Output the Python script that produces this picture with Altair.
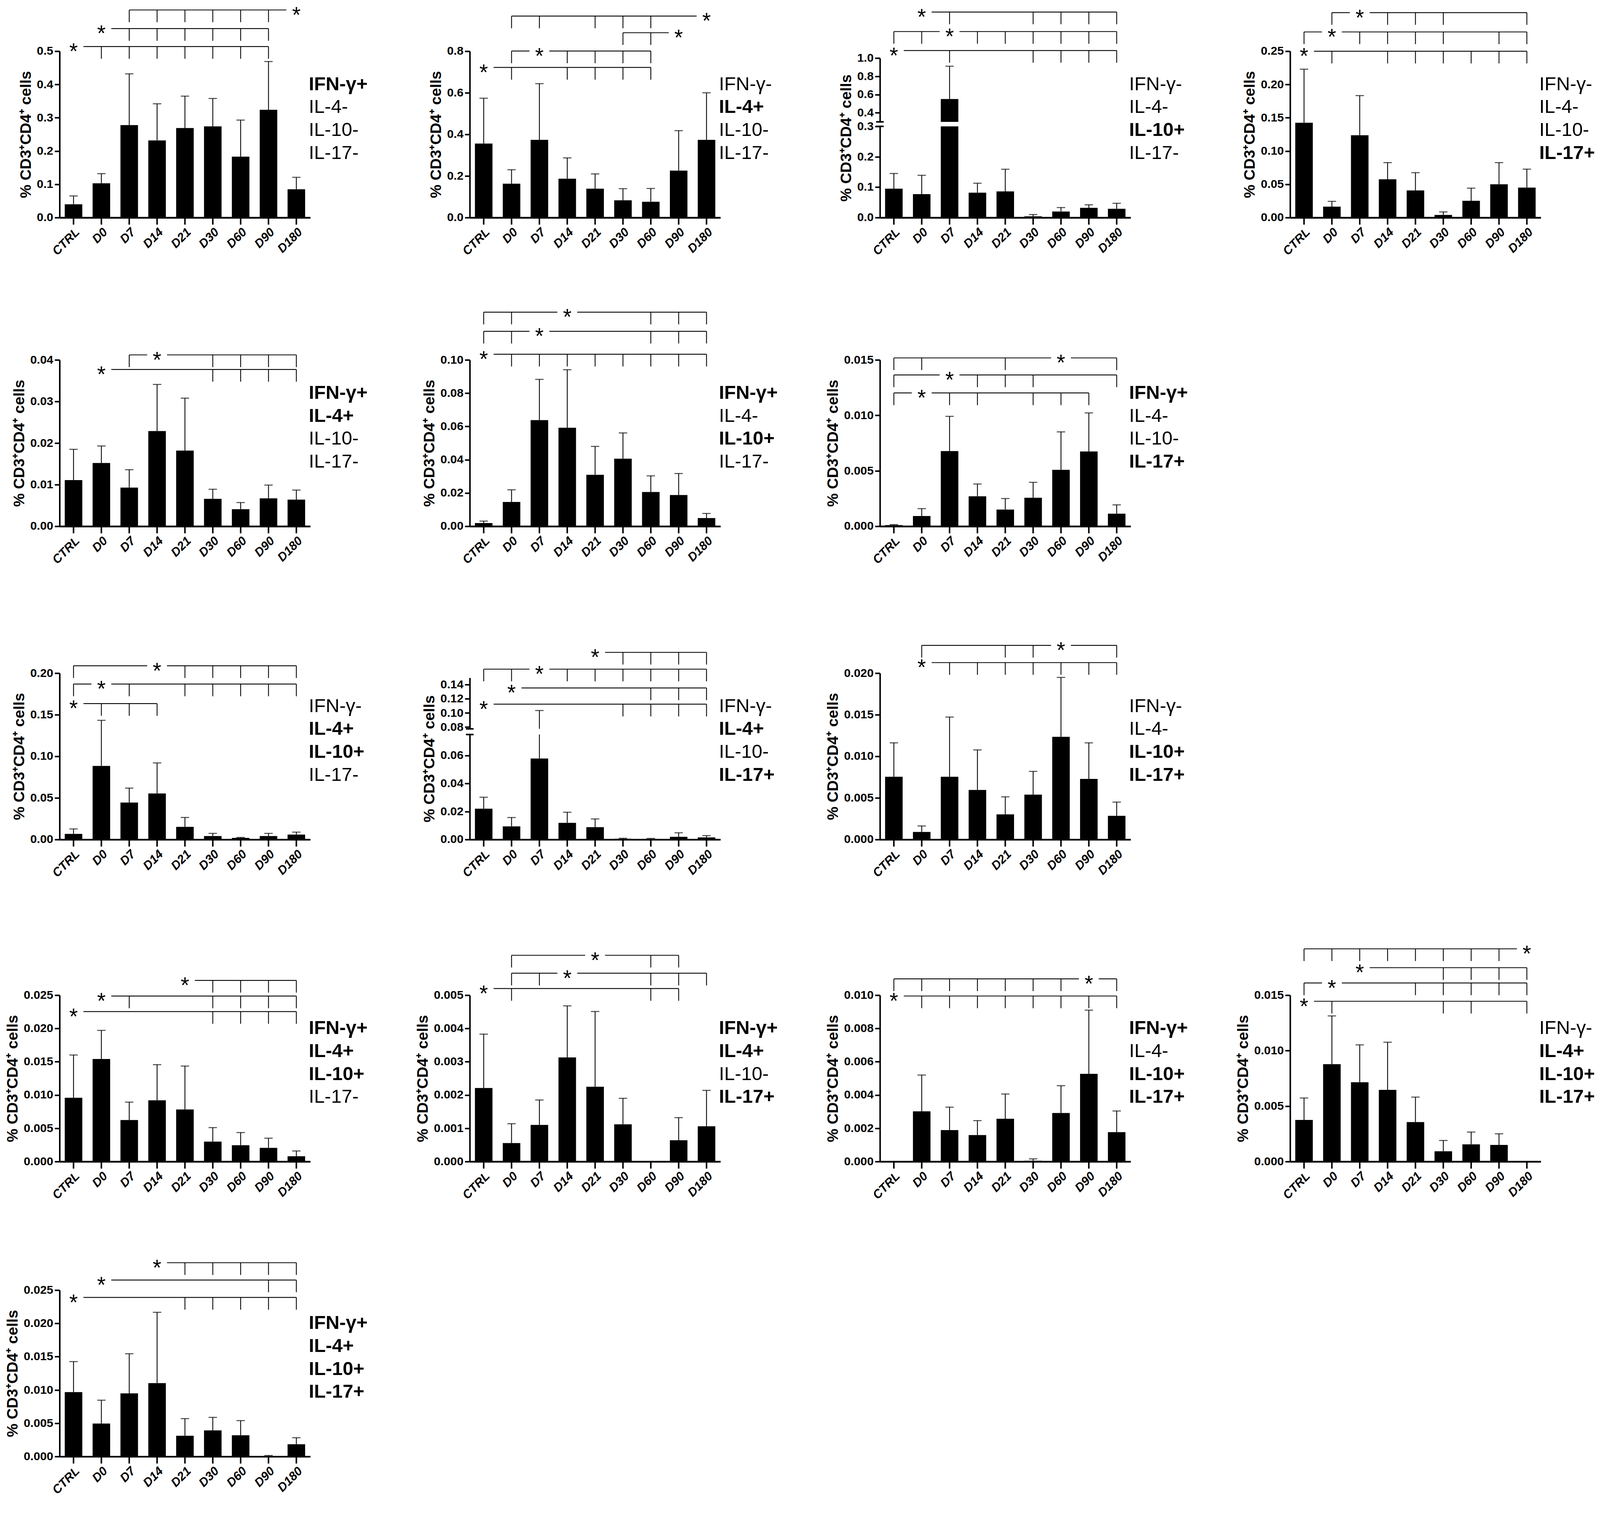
import altair as alt
import pandas as pd

FONT = "Liberation Sans"
CATS = ["CTRL", "D0", "D7", "D14", "D21", "D30", "D60", "D90", "D180"]
YTITLE = "% CD3⁺CD4⁺ cells"

# ---------------- panel values (mean bar, upper end of error bar) ----------------
P1_LABELS = ["IFN-γ+", "IL-4-", "IL-10-", "IL-17-"]
P1_MEAN = [0.040, 0.103, 0.278, 0.232, 0.269, 0.274, 0.183, 0.324, 0.085]
P1_ERR = [0.065, 0.132, 0.432, 0.342, 0.365, 0.358, 0.293, 0.469, 0.121]
P1_TICKS = [0, 0.1, 0.2, 0.3, 0.4, 0.5]
P1_SIG = [(0.514, "CTRL", ["D0", "D7", "D14", "D21", "D30", "D60", "D90"]),
          (0.568, "D0", ["D7", "D14", "D21", "D30", "D60", "D90"]),
          (0.624, "D180", ["D7", "D14", "D21", "D30", "D60", "D90"])]

P2_LABELS = ["IFN-γ-", "IL-4+", "IL-10-", "IL-17-"]
P2_MEAN = [0.356, 0.163, 0.374, 0.187, 0.139, 0.083, 0.076, 0.226, 0.374]
P2_ERR = [0.574, 0.230, 0.644, 0.287, 0.210, 0.139, 0.140, 0.418, 0.600]
P2_TICKS = [0, 0.2, 0.4, 0.6, 0.8]
P2_SIG = [(0.722, "CTRL", ["D0", "D14", "D21", "D30", "D60"]),
          (0.801, "D7", ["D0", "D14", "D21", "D30", "D60"]),
          (0.889, "D90", ["D30", "D60"]),
          (0.969, "D180", ["D0", "D7", "D21", "D30", "D60"])]

P3_LABELS = ["IFN-γ-", "IL-4-", "IL-10+", "IL-17-"]
P3_MEAN = [0.095, 0.077, 0.551, 0.082, 0.086, 0.004, 0.020, 0.032, 0.029]
P3_ERR = [0.145, 0.139, 0.911, 0.113, 0.159, 0.010, 0.033, 0.042, 0.047]
P3_TICKS = [0, 0.1, 0.2, 0.3, 0.4, 0.6, 0.8, 1.0]
P3_BREAK = [0.3, 0.3001]
P3_SIG = [(1.083, "CTRL", ["D7", "D30", "D60", "D90", "D180"]),
          (1.291, "D7", ["CTRL", "D0", "D14", "D21", "D30", "D60", "D90", "D180"]),
          (1.505, "D0", ["D7", "D30", "D60", "D90", "D180"])]

P4_LABELS = ["IFN-γ-", "IL-4-", "IL-10-", "IL-17+"]
P4_MEAN = [0.1425, 0.0164, 0.1237, 0.0575, 0.0408, 0.0040, 0.0252, 0.0500, 0.0450]
P4_ERR = [0.2230, 0.0244, 0.1833, 0.0826, 0.0675, 0.0085, 0.0442, 0.0826, 0.0728]
P4_TICKS = [0, 0.05, 0.10, 0.15, 0.20, 0.25]
P4_SIG = [(0.250, "CTRL", ["D0", "D14", "D21", "D30", "D60", "D90", "D180"]),
          (0.279, "D0", ["CTRL", "D7", "D14", "D21", "D30", "D90", "D180"]),
          (0.308, "D7", ["D0", "D14", "D21", "D30", "D180"])]

P5_LABELS = ["IFN-γ+", "IL-4+", "IL-10-", "IL-17-"]
P5_MEAN = [0.0111, 0.0152, 0.0093, 0.0229, 0.0182, 0.0066, 0.0041, 0.0067, 0.0064]
P5_ERR = [0.0185, 0.0193, 0.0136, 0.0341, 0.0308, 0.0089, 0.0057, 0.0099, 0.0087]
P5_TICKS = [0, 0.01, 0.02, 0.03, 0.04]
P5_SIG = [(0.0377, "D0", ["D30", "D60", "D90", "D180"]),
          (0.0412, "D14", ["D7", "D30", "D60", "D90", "D180"])]

P6_LABELS = ["IFN-γ+", "IL-4-", "IL-10+", "IL-17-"]
P6_MEAN = [0.0019, 0.0146, 0.0638, 0.0592, 0.0309, 0.0406, 0.0206, 0.0188, 0.0049]
P6_ERR = [0.0031, 0.0219, 0.0883, 0.0941, 0.0480, 0.0561, 0.0303, 0.0317, 0.0077]
P6_TICKS = [0, 0.02, 0.04, 0.06, 0.08, 0.10]
P6_SIG = [(0.1034, "CTRL", ["D0", "D7", "D14", "D21", "D30", "D60", "D90", "D180"]),
          (0.1172, "D7", ["CTRL", "D0", "D60", "D90", "D180"]),
          (0.1287, "D14", ["CTRL", "D0", "D60", "D90", "D180"])]

P7_LABELS = ["IFN-γ+", "IL-4-", "IL-10-", "IL-17+"]
P7_MEAN = [0.0001, 0.00092, 0.00678, 0.0027, 0.0015, 0.00257, 0.00509, 0.00674, 0.00113]
P7_ERR = [0.00015, 0.00159, 0.00991, 0.00381, 0.0025, 0.00396, 0.00851, 0.01022, 0.00193]
P7_TICKS = [0, 0.005, 0.010, 0.015]
P7_SIG = [(0.01202, "D0", ["CTRL", "D7", "D14", "D30", "D60", "D90"]),
          (0.01364, "D7", ["CTRL", "D14", "D21", "D30", "D180"]),
          (0.01518, "D60", ["CTRL", "D0", "D21", "D180"])]

P9_LABELS = ["IFN-γ-", "IL-4+", "IL-10+", "IL-17-"]
P9_MEAN = [0.0068, 0.0885, 0.0444, 0.0554, 0.0152, 0.0042, 0.0019, 0.0042, 0.0059]
P9_ERR = [0.0127, 0.1433, 0.0618, 0.0921, 0.0265, 0.0074, 0.0025, 0.0074, 0.0089]
P9_TICKS = [0, 0.05, 0.10, 0.15, 0.20]
P9_SIG = [(0.1634, "CTRL", ["D0", "D7", "D14"]),
          (0.1869, "D0", ["CTRL", "D7", "D21", "D30", "D60", "D90", "D180"]),
          (0.2089, "D14", ["CTRL", "D21", "D30", "D60", "D90", "D180"])]

P10_LABELS = ["IFN-γ-", "IL-4+", "IL-10-", "IL-17+"]
P10_MEAN = [0.0220, 0.0094, 0.0579, 0.0119, 0.0088, 0.0005, 0.0004, 0.0019, 0.0015]
P10_ERR = [0.0302, 0.0157, 0.1035, 0.0195, 0.0147, 0.0009, 0.0008, 0.0048, 0.0028]
P10_TICKS = [0, 0.02, 0.04, 0.06, 0.08, 0.10, 0.12, 0.14]
P10_BREAK = [0.075, 0.0775]
P10_SIG = [(0.1125, "CTRL", ["D30", "D60", "D90", "D180"]),
           (0.1355, "D0", ["D60", "D90", "D180"]),
           (0.1622, "D7", ["CTRL", "D0", "D14", "D21", "D30", "D60", "D90", "D180"]),
           (0.1860, "D21", ["D30", "D60", "D90", "D180"])]

P11_LABELS = ["IFN-γ-", "IL-4-", "IL-10+", "IL-17+"]
P11_MEAN = [0.00754, 0.00091, 0.00754, 0.00596, 0.00302, 0.00539, 0.01235, 0.00729, 0.00285]
P11_ERR = [0.01162, 0.00163, 0.01472, 0.01077, 0.00513, 0.00819, 0.01949, 0.01162, 0.00450]
P11_TICKS = [0, 0.005, 0.010, 0.015, 0.020]
P11_SIG = [(0.02127, "D0", ["D7", "D14", "D21", "D30", "D60", "D90", "D180"]),
           (0.02334, "D60", ["D0", "D21", "D30", "D180"])]

P13_LABELS = ["IFN-γ+", "IL-4+", "IL-10+", "IL-17-"]
P13_MEAN = [0.00959, 0.01541, 0.00624, 0.00920, 0.00782, 0.00299, 0.00246, 0.00206, 0.00079]
P13_ERR = [0.01601, 0.01971, 0.00893, 0.01456, 0.01435, 0.00510, 0.00436, 0.00351, 0.00159]
P13_TICKS = [0, 0.005, 0.010, 0.015, 0.020, 0.025]
P13_SIG = [(0.02254, "CTRL", ["D30", "D60", "D90", "D180"]),
           (0.02487, "D0", ["D7", "D30", "D60", "D90", "D180"]),
           (0.02722, "D21", ["D30", "D60", "D90", "D180"])]

P14_LABELS = ["IFN-γ+", "IL-4+", "IL-10-", "IL-17+"]
P14_MEAN = [0.00221, 0.000555, 0.00110, 0.00313, 0.00225, 0.00112, 0.0, 0.00064, 0.00106]
P14_ERR = [0.00383, 0.001136, 0.00185, 0.00468, 0.00451, 0.00190, 0.0, 0.00132, 0.00214]
P14_TICKS = [0, 0.001, 0.002, 0.003, 0.004, 0.005]
P14_SIG = [(0.00520, "CTRL", ["D0", "D60", "D90"]),
           (0.00566, "D14", ["D0", "D7", "D60", "D90", "D180"]),
           (0.00620, "D21", ["D0", "D60", "D90"])]

P15_LABELS = ["IFN-γ+", "IL-4-", "IL-10+", "IL-17+"]
P15_MEAN = [0.0, 0.00302, 0.00189, 0.00159, 0.00257, 0.00005, 0.00292, 0.00527, 0.00177]
P15_ERR = [0.0, 0.00520, 0.00327, 0.00246, 0.00406, 0.00016, 0.00456, 0.00910, 0.00304]
P15_TICKS = [0, 0.002, 0.004, 0.006, 0.008, 0.010]
P15_SIG = [(0.00995, "CTRL", ["D0", "D7", "D14", "D21", "D30", "D60", "D90", "D180"]),
           (0.01098, "D90", ["CTRL", "D0", "D7", "D14", "D21", "D30", "D60", "D180"])]

P16_LABELS = ["IFN-γ-", "IL-4+", "IL-10+", "IL-17+"]
P16_MEAN = [0.00375, 0.00878, 0.00715, 0.00646, 0.00356, 0.00093, 0.00155, 0.00150, 0.0]
P16_ERR = [0.00573, 0.01313, 0.01052, 0.01076, 0.00581, 0.00190, 0.00266, 0.00250, 0.0]
P16_TICKS = [0, 0.005, 0.010, 0.015]
P16_SIG = [(0.01445, "CTRL", ["D0", "D30", "D60", "D180"]),
           (0.01610, "D0", ["CTRL", "D21", "D30", "D60", "D90", "D180"]),
           (0.01748, "D7", ["D30", "D60", "D90", "D180"]),
           (0.01918, "D180", ["CTRL", "D0", "D7", "D14", "D21", "D30", "D60", "D90"])]

P17_LABELS = ["IFN-γ+", "IL-4+", "IL-10+", "IL-17+"]
P17_MEAN = [0.00968, 0.00495, 0.00949, 0.01103, 0.00311, 0.00392, 0.00319, 0.00005, 0.00184]
P17_ERR = [0.01426, 0.00846, 0.01544, 0.02167, 0.00569, 0.00588, 0.00539, 0.00015, 0.00282]
P17_TICKS = [0, 0.005, 0.010, 0.015, 0.020, 0.025]
P17_SIG = [(0.02390, "CTRL", ["D21", "D30", "D60", "D90", "D180"]),
           (0.02652, "D0", ["D90", "D180"]),
           (0.02912, "D14", ["D21", "D30", "D60", "D90", "D180"])]

# ---------------- layout / style ----------------
PANEL_W = 657
PLOT_H = 436
ROW_TOP = [118, 178, 190, 213, 142]
COL_GAP = 418
ROW_GAP = 90
LEG_SIZE = 50
STAR_SIZE = 58

X_AXIS = alt.Axis(title=None, labelAngle=-45, labelFont=FONT, labelFontSize=32,
                  labelFontWeight="bold", labelFontStyle="italic", labelColor="black",
                  labelPadding=4, tickSize=18, tickWidth=4, tickColor="black",
                  domainWidth=4.5, domainColor="black", grid=False, labelOverlap=False)


def y_axis(ticks, fmt):
    return alt.Axis(title=YTITLE, values=ticks, format=fmt, grid=False, labelOverlap=False,
                    labelFont=FONT, labelFontSize=31, labelFontWeight="bold", labelColor="black",
                    labelPadding=4, tickSize=13, tickWidth=4, tickColor="black",
                    domainWidth=4, domainColor="black", titleFont=FONT, titleFontSize=40,
                    titleFontWeight="bold", titleColor="black", titlePadding=8)


def make_panel(labels, mean, err, sig, ticks, fmt, top, ph=PLOT_H, brk=None, frac=None):
    H = top + PLOT_H
    ptop = H - ph
    if brk is None:
        dom = [0, ticks[-1]]
        rng = [H, ptop]
    else:
        dom = [0, brk[0], brk[1], frac[3]]
        rng = [H - f * ph for f in frac[:3]] + [ptop]
    ys = alt.Scale(domain=dom, range=rng, zero=False, nice=False)
    xs = alt.Scale(domain=CATS, paddingInner=0.37, paddingOuter=0.185)

    def X(f):
        return alt.X(f, scale=xs, title=None)

    def Y(f):
        return alt.Y(f, scale=ys, title=YTITLE)

    df = pd.DataFrame({"cat": CATS, "mean": mean, "err": err, "base": [0.0] * len(CATS)})
    layers = []
    layers.append(alt.Chart(df).mark_bar(color="black").encode(
        x=alt.X("cat:N", scale=xs, axis=X_AXIS, title=None),
        y=alt.Y("mean:Q", scale=ys, axis=y_axis(ticks, fmt), title=YTITLE),
        y2="base:Q"))
    dfe = df[df["err"] > df["mean"]]
    layers.append(alt.Chart(dfe).mark_rule(color="black", strokeWidth=2.2).encode(
        x=X("cat:N"), y=Y("mean:Q"), y2="err:Q"))
    layers.append(alt.Chart(dfe).mark_tick(color="black", size=22, thickness=2.6,
                                           orient="horizontal").encode(
        x=X("cat:N"), y=Y("err:Q")))
    if brk is not None:
        gap = pd.DataFrame({"lo": [brk[0]], "hi": [brk[1]]})
        layers.append(alt.Chart(gap).mark_rect(color="white").encode(
            x=alt.value(-3), x2=alt.value(PANEL_W), y=Y("lo:Q"), y2="hi:Q"))
        marks = pd.DataFrame({"v": brk})
        layers.append(alt.Chart(marks).mark_rule(color="black", strokeWidth=4).encode(
            x=alt.value(-10), x2=alt.value(10), y=Y("v:Q")))

    seg_l, seg_r, tks, stars = [], [], [], []
    for lvl, ref, tl in sig:
        r = CATS.index(ref)
        idx = [CATS.index(c) for c in tl] + [r]
        lo, hi = min(idx), max(idx)
        if lo < r:
            seg_l.append({"lvl": lvl, "a": CATS[lo], "b": ref})
        if hi > r:
            seg_r.append({"lvl": lvl, "a": ref, "b": CATS[hi]})
        for c in tl:
            tks.append({"lvl": lvl, "cat": c})
        stars.append({"lvl": lvl, "cat": ref, "s": "*"})
    if seg_l:
        layers.append(alt.Chart(pd.DataFrame(seg_l)).mark_rule(
            color="black", strokeWidth=2.2, x2Offset=-26).encode(
            x=X("a:N"), x2="b:N", y=Y("lvl:Q")))
    if seg_r:
        layers.append(alt.Chart(pd.DataFrame(seg_r)).mark_rule(
            color="black", strokeWidth=2.2, xOffset=26).encode(
            x=X("a:N"), x2="b:N", y=Y("lvl:Q")))
    layers.append(alt.Chart(pd.DataFrame(tks)).mark_rule(
        color="black", strokeWidth=2.2, y2Offset=32).encode(
        x=X("cat:N"), y=Y("lvl:Q"), y2="lvl:Q"))
    layers.append(alt.Chart(pd.DataFrame(stars)).mark_text(
        font=FONT, fontSize=STAR_SIZE, color="black", baseline="middle", align="center",
        dy=16).encode(x=X("cat:N"), y=Y("lvl:Q"), text="s:N"))

    for i, lab in enumerate(labels):
        layers.append(alt.Chart(pd.DataFrame({"t": [lab]})).mark_text(
            font=FONT, fontSize=LEG_SIZE, color="black", align="left", baseline="middle",
            fontWeight="bold" if lab.endswith("+") else "normal").encode(
            text="t:N", x=alt.value(PANEL_W - 4), y=alt.value(top + 87 + 60 * i)))

    return alt.layer(*layers).properties(width=PANEL_W, height=H)


rows = [
    [make_panel(P1_LABELS, P1_MEAN, P1_ERR, P1_SIG, P1_TICKS, ".1f", ROW_TOP[0]),
     make_panel(P2_LABELS, P2_MEAN, P2_ERR, P2_SIG, P2_TICKS, ".1f", ROW_TOP[0]),
     make_panel(P3_LABELS, P3_MEAN, P3_ERR, P3_SIG, P3_TICKS, ".1f", ROW_TOP[0], ph=418,
                brk=P3_BREAK, frac=[0, 0.572, 0.600, 1.0]),
     make_panel(P4_LABELS, P4_MEAN, P4_ERR, P4_SIG, P4_TICKS, ".2f", ROW_TOP[0])],
    [make_panel(P5_LABELS, P5_MEAN, P5_ERR, P5_SIG, P5_TICKS, ".2f", ROW_TOP[1]),
     make_panel(P6_LABELS, P6_MEAN, P6_ERR, P6_SIG, P6_TICKS, ".2f", ROW_TOP[1]),
     make_panel(P7_LABELS, P7_MEAN, P7_ERR, P7_SIG, P7_TICKS, ".3f", ROW_TOP[1])],
    [make_panel(P9_LABELS, P9_MEAN, P9_ERR, P9_SIG, P9_TICKS, ".2f", ROW_TOP[2]),
     make_panel(P10_LABELS, P10_MEAN, P10_ERR, P10_SIG, P10_TICKS, ".2f", ROW_TOP[2], ph=424,
                brk=P10_BREAK, frac=[0, 0.649, 0.684, 0.15]),
     make_panel(P11_LABELS, P11_MEAN, P11_ERR, P11_SIG, P11_TICKS, ".3f", ROW_TOP[2])],
    [make_panel(P13_LABELS, P13_MEAN, P13_ERR, P13_SIG, P13_TICKS, ".3f", ROW_TOP[3]),
     make_panel(P14_LABELS, P14_MEAN, P14_ERR, P14_SIG, P14_TICKS, ".3f", ROW_TOP[3]),
     make_panel(P15_LABELS, P15_MEAN, P15_ERR, P15_SIG, P15_TICKS, ".3f", ROW_TOP[3]),
     make_panel(P16_LABELS, P16_MEAN, P16_ERR, P16_SIG, P16_TICKS, ".3f", ROW_TOP[3])],
    [make_panel(P17_LABELS, P17_MEAN, P17_ERR, P17_SIG, P17_TICKS, ".3f", ROW_TOP[4])],
]

base = alt.vconcat(
    *[alt.hconcat(*r, spacing=COL_GAP, bounds="flush") for r in rows],
    spacing=ROW_GAP
).properties(background="white")

try:
    chart = base.properties(
        padding={"top": -42, "left": 5, "right": 5, "bottom": 5}
    ).configure_view(stroke=None)
    chart.to_dict()
except Exception:
    chart = base.configure_view(stroke=None)

chart.save("out.html", embed_options={"renderer": "svg", "actions": False})
